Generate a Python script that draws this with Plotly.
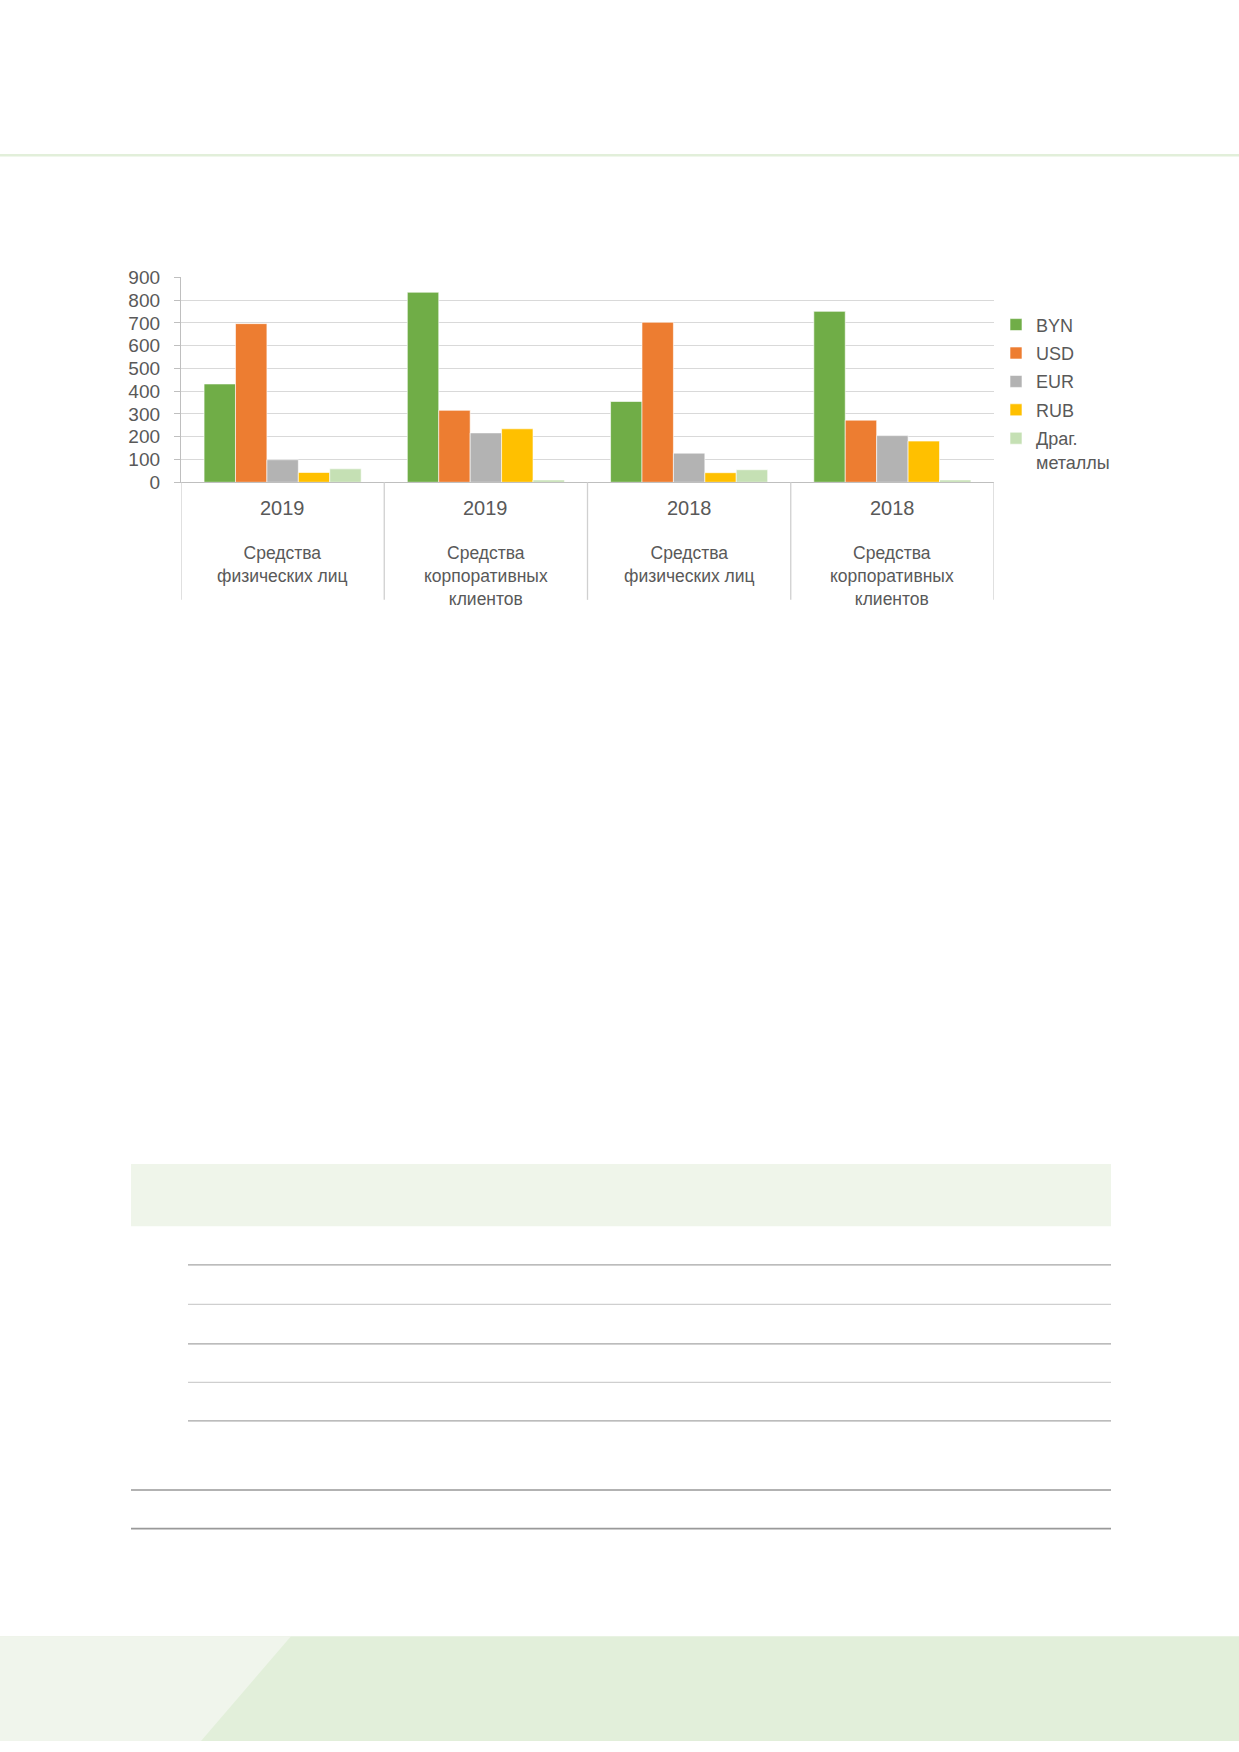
import plotly.graph_objects as go

W, H = 1239, 1752

years = ["2019", "2019", "2018", "2018"]
groups = ["Средства<br>физических лиц", "Средства<br>корпоративных<br>клиентов",
          "Средства<br>физических лиц", "Средства<br>корпоративных<br>клиентов"]
categories = [f"{y} | {g}" for y, g in zip(years, groups)]

series_names = ["BYN", "USD", "EUR", "RUB", "Драг.<br>металлы"]
series_colors = ["#70AD47", "#ED7D31", "#B3B3B3", "#FFC000", "#C5E0B4"]

byn = [432, 835, 355, 751]
usd = [697, 316, 703, 273]
eur = [99, 217, 128, 205]
rub = [43, 235, 42, 181]
drag = [59, 10, 55, 10]
series_values = [byn, usd, eur, rub, drag]

y_ticks = [0, 100, 200, 300, 400, 500, 600, 700, 800, 900]

FONT = "Liberation Sans, Arial, sans-serif"
TXT = "#595959"


def px(x):
    return x / W


def py(y):
    return 1 - y / H


fig = go.Figure()
for name, vals, col in zip(series_names, series_values, series_colors):
    fig.add_trace(go.Bar(
        x=categories, y=vals, name=name, legendgroup=name,
        marker=dict(color=col, line=dict(width=0.6, color="white")),
    ))

shapes = []
# top decorative line
shapes.append(dict(type="line", xref="paper", yref="paper", x0=0, x1=1,
                   y0=py(147), y1=py(147), line=dict(color="#E2EFDA", width=2.5)))
# category dividers
for i in range(len(categories) + 1):
    shapes.append(dict(type="line", xref="x", yref="paper", x0=i - 0.5, x1=i - 0.5,
                       y0=py(478), y1=py(597), line=dict(color="#D0D0D0", width=1.3)))
# light green header block
shapes.append(dict(type="rect", xref="paper", yref="paper", x0=px(131), x1=px(1111),
                   y0=py(1231), y1=py(1168), fillcolor="#EFF5EA", line=dict(width=0),
                   layer="below"))
# table rules
for yy, c in zip([1270, 1310, 1350, 1389, 1428],
                 ["#A6A6A6", "#CFCFCF", "#A6A6A6", "#CFCFCF", "#A6A6A6"]):
    shapes.append(dict(type="line", xref="paper", yref="paper", x0=px(188), x1=px(1111),
                       y0=py(yy), y1=py(yy), line=dict(color=c, width=1.3)))
for yy in [1498, 1537]:
    shapes.append(dict(type="line", xref="paper", yref="paper", x0=px(131), x1=px(1111),
                       y0=py(yy), y1=py(yy), line=dict(color="#999999", width=1.6)))
# bottom band
shapes.append(dict(type="rect", xref="paper", yref="paper", x0=0, x1=1,
                   y0=0, y1=py(1646), fillcolor="#E2EFDA", line=dict(width=0), layer="below"))
shapes.append(dict(type="path", xref="paper", yref="paper",
                   path=f"M 0 0 L {px(201)} 0 L {px(291)} {py(1646)} L 0 {py(1646)} Z",
                   fillcolor="#F0F5EC", line=dict(width=0), layer="below"))

annotations = []
for cat, yr, grp in zip(categories, years, groups):
    annotations.append(dict(x=cat, xref="x", y=py(504), yref="paper", text=yr,
                            showarrow=False, xanchor="center", yanchor="middle",
                            font=dict(family=FONT, size=20, color=TXT)))
    annotations.append(dict(x=cat, xref="x", y=py(537), yref="paper", text=grp,
                            showarrow=False, xanchor="center", yanchor="top",
                            font=dict(family=FONT, size=17.5, color=TXT)))

fig.update_layout(
    width=W, height=H,
    margin=dict(l=0, r=0, t=0, b=0),
    paper_bgcolor="white", plot_bgcolor="white",
    barmode="group", bargap=0.227, bargroupgap=0,
    font=dict(family=FONT, size=19, color=TXT),
    xaxis=dict(domain=[px(181), px(994)], type="category", categoryarray=categories,
               range=[-0.5, 3.5], showticklabels=False, ticks="",
               showline=True, linecolor="#BFBFBF", linewidth=1.3, showgrid=False,
               zeroline=False, fixedrange=True),
    yaxis=dict(domain=[py(478), py(270.7)], range=[0, 900], tickvals=y_ticks,
               ticks="outside", ticklen=6, tickcolor="#BFBFBF", tickwidth=1.3,
               ticklabelstandoff=10,
               showline=True, linecolor="#BFBFBF", linewidth=1.3,
               showgrid=True, gridcolor="#D9D9D9", gridwidth=1.3, zeroline=False,
               tickfont=dict(family=FONT, size=19, color=TXT)),
    legend=dict(x=px(996), xanchor="left", y=py(300), yanchor="top",
                font=dict(family=FONT, size=18, color=TXT), valign="top",
                bgcolor="rgba(0,0,0,0)", tracegroupgap=2, itemwidth=30),
    shapes=shapes,
    annotations=annotations,
)

fig.write_html("out.html", config={"displayModeBar": False},
               post_script="document.body.style.margin='0';document.body.style.overflow='hidden';")
